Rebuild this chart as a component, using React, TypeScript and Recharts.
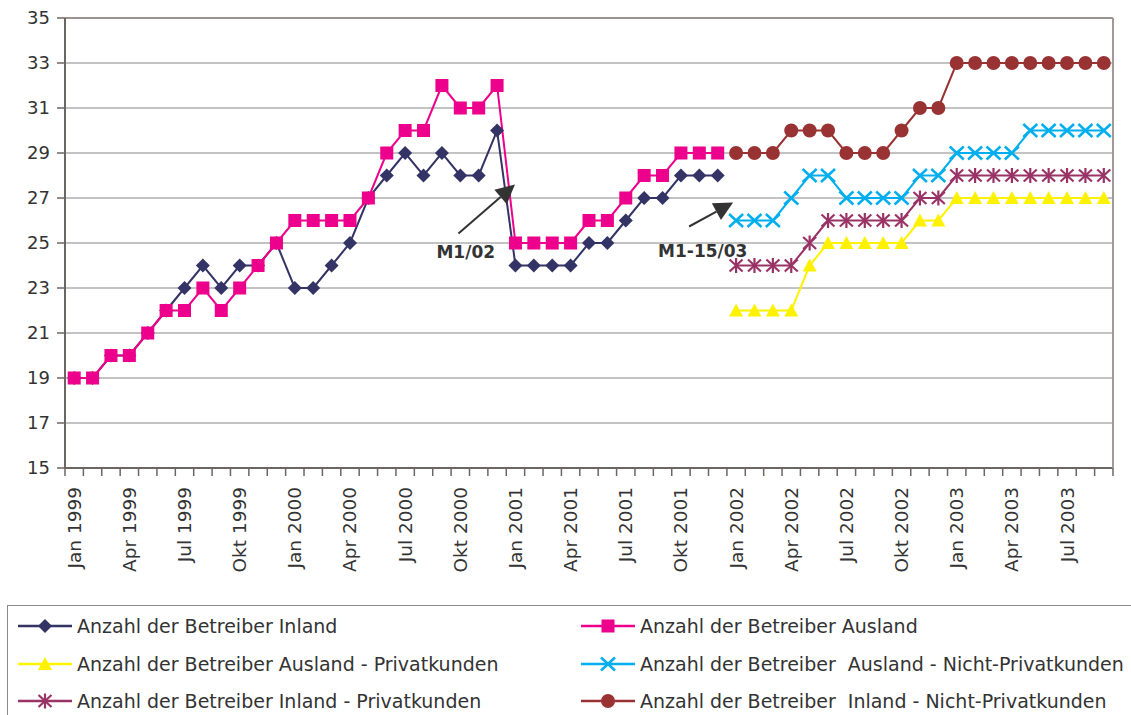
import { CartesianGrid, Line, LineChart, ReferenceDot, ReferenceLine, XAxis, YAxis } from 'recharts'

const MONTH_NAMES = ['Jan', 'Feb', 'Mrz', 'Apr', 'Mai', 'Jun', 'Jul', 'Aug', 'Sep', 'Okt', 'Nov', 'Dez']
const YEARS = [1999, 2000, 2001, 2002, 2003]
// Jan 1999 – Sep 2003
const MONTHS = YEARS.flatMap(y => MONTH_NAMES.map(m => `${m} ${y}`)).slice(0, 57)

const Y_TICKS = [15, 17, 19, 21, 23, 25, 27, 29, 31, 33, 35]

// Jan 1999 – Dez 2001
const INLAND = [19, 19, 20, 20, 21, 22, 23, 24, 23, 24, 24, 25, 23, 23, 24, 25, 27, 28, 29, 28, 29, 28, 28, 30, 24, 24, 24, 24, 25, 25, 26, 27, 27, 28, 28, 28]
const AUSLAND = [19, 19, 20, 20, 21, 22, 22, 23, 22, 23, 24, 25, 26, 26, 26, 26, 27, 29, 30, 30, 32, 31, 31, 32, 25, 25, 25, 25, 26, 26, 27, 28, 28, 29, 29, 29]

// Jan 2002 – Sep 2003
const SPLIT = 36
const AUSLAND_PRIVAT = [22, 22, 22, 22, 24, 25, 25, 25, 25, 25, 26, 26, 27, 27, 27, 27, 27, 27, 27, 27, 27]
const AUSLAND_NICHT_PRIVAT = [26, 26, 26, 27, 28, 28, 27, 27, 27, 27, 28, 28, 29, 29, 29, 29, 30, 30, 30, 30, 30]
const INLAND_PRIVAT = [24, 24, 24, 24, 25, 26, 26, 26, 26, 26, 27, 27, 28, 28, 28, 28, 28, 28, 28, 28, 28]
const INLAND_NICHT_PRIVAT = [29, 29, 29, 30, 30, 30, 29, 29, 29, 30, 31, 31, 33, 33, 33, 33, 33, 33, 33, 33, 33]

const data = MONTHS.map((month, i) => ({
  month,
  inland: INLAND[i] ?? null,
  ausland: AUSLAND[i] ?? null,
  auslandPrivat: AUSLAND_PRIVAT[i - SPLIT] ?? null,
  auslandNichtPrivat: AUSLAND_NICHT_PRIVAT[i - SPLIT] ?? null,
  inlandPrivat: INLAND_PRIVAT[i - SPLIT] ?? null,
  inlandNichtPrivat: INLAND_NICHT_PRIVAT[i - SPLIT] ?? null,
}))

type Kind = 'diamond' | 'square' | 'triangle' | 'x' | 'star' | 'circle'

const SERIES: { key: string; name: string; color: string; kind: Kind }[] = [
  { key: 'inland', name: 'Anzahl der Betreiber Inland', color: '#333366', kind: 'diamond' },
  { key: 'ausland', name: 'Anzahl der Betreiber Ausland', color: '#ec008c', kind: 'square' },
  { key: 'auslandPrivat', name: 'Anzahl der Betreiber Ausland - Privatkunden', color: '#fff200', kind: 'triangle' },
  { key: 'auslandNichtPrivat', name: 'Anzahl der Betreiber  Ausland - Nicht-Privatkunden', color: '#00aeef', kind: 'x' },
  { key: 'inlandPrivat', name: 'Anzahl der Betreiber Inland - Privatkunden', color: '#993366', kind: 'star' },
  { key: 'inlandNichtPrivat', name: 'Anzahl der Betreiber  Inland - Nicht-Privatkunden', color: '#993333', kind: 'circle' },
]

const AXIS = '#6d6562'
const FONT = '"DejaVu Sans", sans-serif'

function Marker({ kind, cx, cy, color }: { kind: Kind; cx: number; cy: number; color: string }) {
  switch (kind) {
    case 'diamond':
      return <polygon points={`${cx},${cy - 7} ${cx + 7},${cy} ${cx},${cy + 7} ${cx - 7},${cy}`} fill={color} />
    case 'square':
      return <rect x={cx - 6.5} y={cy - 6.5} width={13} height={13} fill={color} />
    case 'triangle':
      return <polygon points={`${cx},${cy - 7} ${cx + 7},${cy + 6} ${cx - 7},${cy + 6}`} fill={color} />
    case 'x':
      return (
        <g stroke={color} strokeWidth={2.5}>
          <line x1={cx - 7} y1={cy - 6.5} x2={cx + 7} y2={cy + 6.5} />
          <line x1={cx - 7} y1={cy + 6.5} x2={cx + 7} y2={cy - 6.5} />
        </g>
      )
    case 'star':
      return (
        <g stroke={color} strokeWidth={2.2}>
          <line x1={cx - 6.5} y1={cy - 6} x2={cx + 6.5} y2={cy + 6} />
          <line x1={cx - 6.5} y1={cy + 6} x2={cx + 6.5} y2={cy - 6} />
          <line x1={cx} y1={cy - 7.5} x2={cx} y2={cy + 7.5} />
        </g>
      )
    default:
      return <circle cx={cx} cy={cy} r={7} fill={color} />
  }
}

function MonthTick(props: any) {
  const { x, y, payload, index, visibleTicksCount } = props
  const half = payload?.offset || 1048 / MONTHS.length / 2
  return (
    <g>
      <line x1={x - half} x2={x - half} y1={y} y2={y + 8} stroke={AXIS} strokeWidth={1.5} />
      {index === visibleTicksCount - 1 && (
        <line x1={x + half} x2={x + half} y1={y} y2={y + 8} stroke={AXIS} strokeWidth={1.5} />
      )}
      {index % 3 === 0 && (
        <text
          transform={`translate(${x},${y + 19}) rotate(-90)`}
          textAnchor="end"
          dy="0.35em"
          fontSize={18.5}
          fontFamily={FONT}
          fill="#333"
        >
          {payload.value}
        </text>
      )}
    </g>
  )
}

function Callout(props: any) {
  const { cx, cy, label, tipDx = 0, tail, textAt } = props
  const tx = cx + tipDx, ty = cy
  const sx = cx + tail[0], sy = cy + tail[1]
  const len = Math.hypot(sx - tx, sy - ty)
  const ux = (sx - tx) / len, uy = (sy - ty) / len
  const bx = tx + ux * 19, by = ty + uy * 19
  const nx = -uy * 9.5, ny = ux * 9.5
  return (
    <g>
      <line x1={sx} y1={sy} x2={bx} y2={by} stroke="#333" strokeWidth={2} />
      <polygon points={`${tx},${ty} ${bx + nx},${by + ny} ${bx - nx},${by - ny}`} fill="#333" />
      <text x={cx + textAt[0]} y={cy + textAt[1]} fontSize={17} fontWeight="bold" fontFamily={FONT} fill="#333">
        {label}
      </text>
    </g>
  )
}

function LegendBox() {
  return (
    <div style={{ position: 'absolute', left: 7, top: 605, width: 1140, height: 130, border: '1px solid #8a8a8a', boxSizing: 'border-box' }}>
      {SERIES.map((s, i) => {
        const col = i % 2, row = Math.floor(i / 2)
        return (
          <div
            key={s.key}
            style={{
              position: 'absolute', left: 10 + col * 563, top: 8 + row * 37.5, height: 24,
              display: 'flex', alignItems: 'center',
            }}
          >
            <svg width={54} height={24} style={{ display: 'block' }}>
              <line x1={0} y1={12} x2={54} y2={12} stroke={s.color} strokeWidth={2.5} />
              <Marker kind={s.kind} cx={27} cy={12} color={s.color} />
            </svg>
            <span style={{ marginLeft: 5, fontSize: 19, color: '#333', whiteSpace: 'pre', fontFamily: FONT }}>{s.name}</span>
          </div>
        )
      })}
    </div>
  )
}

export default function App() {
  return (
    <div style={{ position: 'absolute', left: 0, top: 0, width: 1131, height: 715, overflow: 'hidden', background: '#fff', fontFamily: FONT }}>
      <LineChart width={1131} height={605} data={data} margin={{ top: 18, right: 0, left: 0, bottom: 0 }}>
        <CartesianGrid vertical={false} stroke="#868686" />
        <XAxis
          dataKey="month"
          scale="band"
          interval={0}
          height={137}
          tickSize={0}
          tickMargin={0}
          tickLine={false}
          axisLine={{ stroke: AXIS, strokeWidth: 2 }}
          tick={<MonthTick />}
        />
        <YAxis
          domain={[15, 35]}
          ticks={Y_TICKS}
          interval={0}
          width={65}
          tickSize={8}
          tickMargin={7}
          tickLine={{ stroke: AXIS, strokeWidth: 1.5 }}
          axisLine={{ stroke: AXIS, strokeWidth: 2 }}
          tick={{ fill: '#333', fontSize: 18, fontFamily: FONT }}
        />
        <YAxis
          yAxisId="right"
          orientation="right"
          domain={[15, 35]}
          ticks={[]}
          tick={false}
          tickLine={false}
          width={18}
          axisLine={{ stroke: '#a29995', strokeWidth: 2 }}
        />
        <ReferenceLine y={35} stroke="#9c928e" strokeWidth={2} />
        {SERIES.map(s => (
          <Line
            key={s.key}
            dataKey={s.key}
            name={s.name}
            stroke={s.color}
            strokeWidth={2}
            isAnimationActive={false}
            dot={(p: any) =>
              p.value == null || p.cy == null
                ? <g key={p.index} />
                : <Marker key={p.index} kind={s.kind} cx={p.cx} cy={p.cy} color={s.color} />
            }
            activeDot={false}
          />
        ))}
        <ReferenceDot
          x="Jan 2001"
          y={27.6}
          ifOverflow="visible"
          shape={(p: any) => <Callout {...p} label="M1/02" tipDx={-0.5} tail={[-57, 49]} textAt={[-79, 73]} />}
        />
        <ReferenceDot
          x="Jan 2002"
          y={26.8}
          ifOverflow="visible"
          shape={(p: any) => <Callout {...p} label="M1-15/03" tipDx={-3} tail={[-47, 24]} textAt={[-78, 54]} />}
        />
      </LineChart>
      <LegendBox />
    </div>
  )
}
